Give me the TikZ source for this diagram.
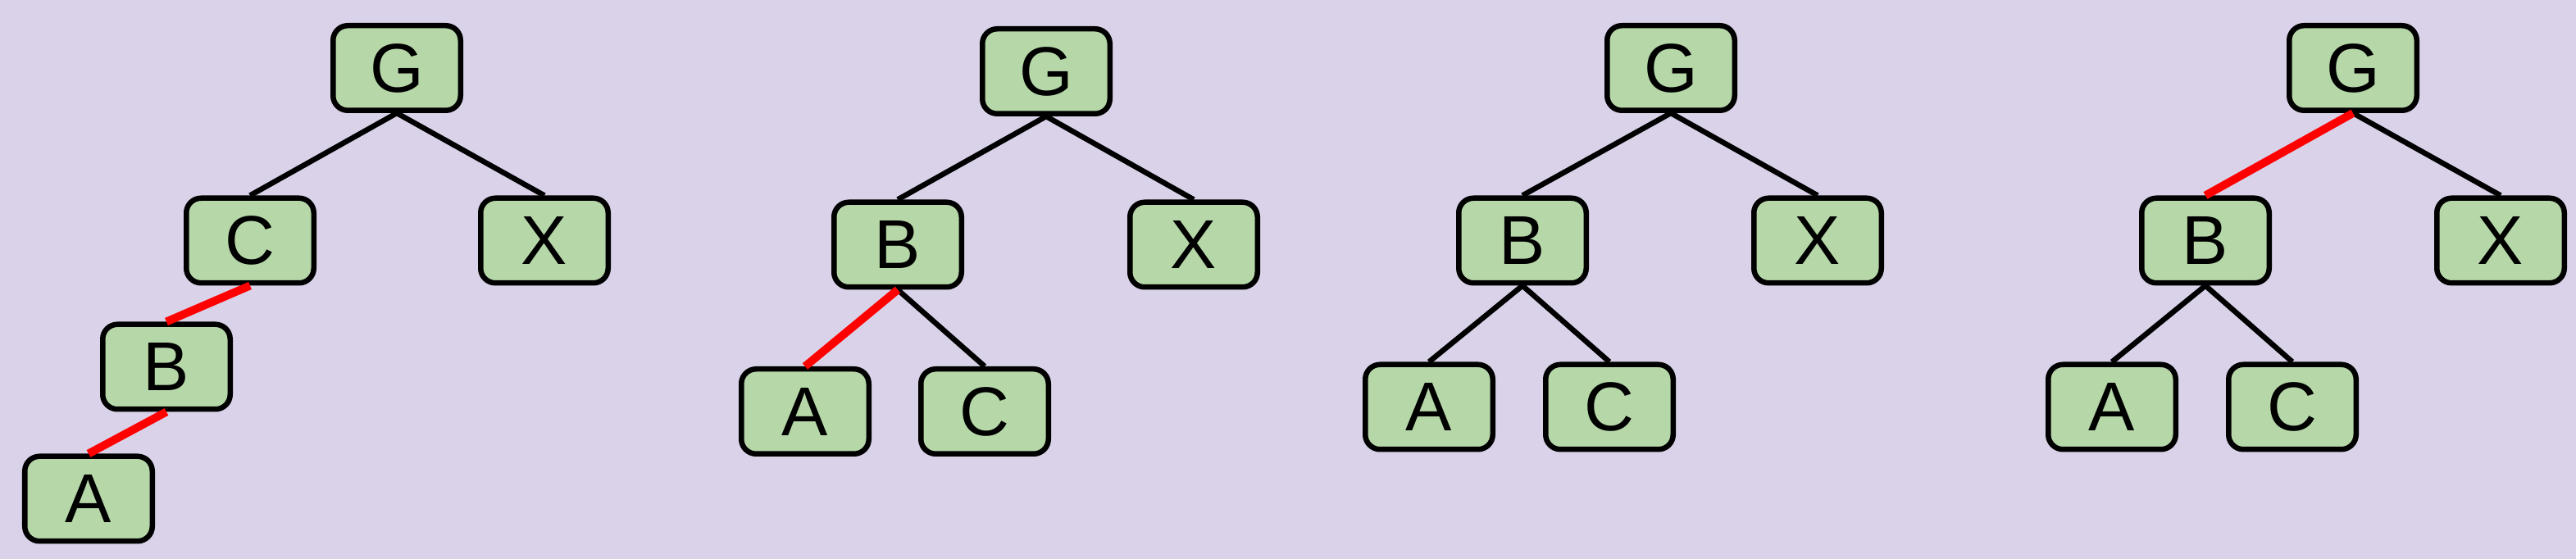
\documentclass[tikz,border=0pt]{standalone}
\usepackage{fontspec}
\setmainfont{Liberation Sans}
\usepackage{xcolor}
\definecolor{bglilac}{HTML}{D9D2E9}
\definecolor{boxgreen}{HTML}{B6D7A8}
\begin{document}
\begin{tikzpicture}[
  box/.style={draw, line width=1.85pt, rounded corners=0.18cm, fill=boxgreen,
    minimum width=1.555cm, minimum height=1.035cm, inner sep=0pt,
    font=\fontsize{24}{28}\selectfont},
  edge/.style={line width=1.85pt},
  rotedge/.style={line width=2.8pt, red}]
\fill[bglilac] (0,0) rectangle (31.42,6.82);
\useasboundingbox (0,0) rectangle (31.42,6.82);
% before rotation
\node[box] (g1) at (4.84,5.99) {G};
\node[box] (c1) at (3.05,3.885) {C};
\node[box] (x1) at (6.64,3.885) {X};
\node[box] (b1) at (2.03,2.345) {B};
\node[box] (a1) at (1.08,0.735) {A};
\draw[edge] (g1.south)--(c1.north);
\draw[edge] (g1.south)--(x1.north);
\draw[rotedge] (c1.south)--(b1.north);
\draw[rotedge] (b1.south)--(a1.north);
% after first rotation
\node[box] (g2) at (12.76,5.95) {G};
\node[box] (b2) at (10.95,3.835) {B};
\node[box] (x2) at (14.56,3.835) {X};
\node[box] (a2) at (9.82,1.80) {A};
\node[box] (c2) at (12.01,1.80) {C};
\draw[edge] (g2.south)--(b2.north);
\draw[edge] (g2.south)--(x2.north);
\draw[edge] (b2.south)--(c2.north);
\draw[rotedge] (b2.south)--(a2.north);
% balanced
\node[box] (g3) at (20.38,5.99) {G};
\node[box] (b3) at (18.57,3.885) {B};
\node[box] (x3) at (22.17,3.885) {X};
\node[box] (a3) at (17.43,1.855) {A};
\node[box] (c3) at (19.63,1.855) {C};
\draw[edge] (g3.south)--(b3.north);
\draw[edge] (g3.south)--(x3.north);
\draw[edge] (b3.south)--(a3.north);
\draw[edge] (b3.south)--(c3.north);
% next step
\node[box] (g4) at (28.70,5.99) {G};
\node[box] (b4) at (26.90,3.885) {B};
\node[box] (x4) at (30.50,3.885) {X};
\node[box] (a4) at (25.76,1.855) {A};
\node[box] (c4) at (27.96,1.855) {C};
\draw[edge] (g4.south)--(x4.north);
\draw[edge] (b4.south)--(a4.north);
\draw[edge] (b4.south)--(c4.north);
\draw[rotedge] (g4.south)--(b4.north);
\end{tikzpicture}
\end{document}
